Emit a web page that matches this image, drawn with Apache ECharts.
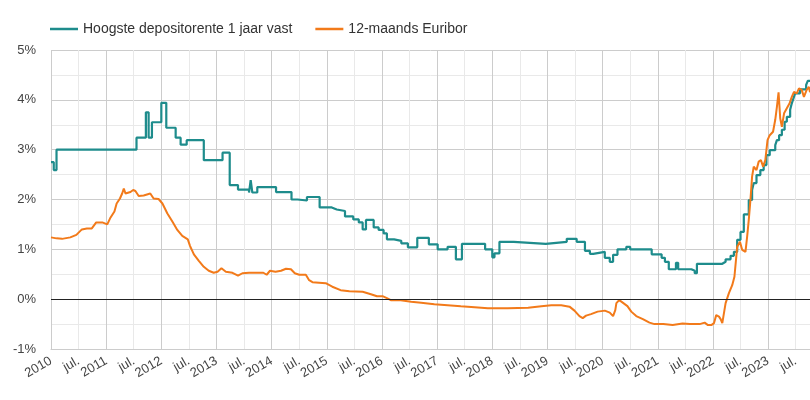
<!DOCTYPE html>
<html>
<head>
<meta charset="utf-8">
<script src="https://cdn.jsdelivr.net/npm/echarts@6/dist/echarts.min.js"></script>
<style>
  html, body { margin: 0; padding: 0; background: #fff; }
  #chart { width: 810px; height: 400px; }
</style>
</head>
<body>
<div id="chart"></div>
<script>
// Time values are decimal years (2010.5 = July 2010)
const seriesNames = ['Hoogste depositorente 1 jaar vast', '12-maands Euribor'];

const depositTimes = [
  2010.00, 2010.05, 2010.10, 2011.55, 2011.72, 2011.77, 2011.83, 2012.00, 2012.09, 2012.26,
  2012.35, 2012.46, 2012.77, 2013.11, 2013.24, 2013.39, 2013.59, 2013.62, 2013.65, 2013.74,
  2014.08, 2014.36, 2014.47, 2014.64, 2014.87, 2015.09, 2015.11, 2015.18, 2015.33, 2015.48,
  2015.58, 2015.65, 2015.71, 2015.85, 2015.94, 2016.03, 2016.09, 2016.22, 2016.35, 2016.47,
  2016.64, 2016.85, 2017.01, 2017.19, 2017.34, 2017.45, 2017.87, 2018.00, 2018.04, 2018.13,
  2018.39, 2018.97, 2019.35, 2019.53, 2019.68, 2019.77, 2019.83, 2020.04, 2020.13, 2020.19,
  2020.27, 2020.43, 2020.50, 2020.89, 2021.07, 2021.13, 2021.20, 2021.33, 2021.37, 2021.61,
  2021.67, 2021.71, 2022.17, 2022.23, 2022.32, 2022.38, 2022.44, 2022.50, 2022.56, 2022.65,
  2022.71, 2022.74, 2022.79, 2022.86, 2022.92, 2022.97, 2023.03, 2023.13, 2023.16, 2023.20,
  2023.25, 2023.30, 2023.34, 2023.40, 2023.43, 2023.46, 2023.49, 2023.58, 2023.69, 2023.72,
  2023.76
];
const depositRates = [
  2.75, 2.59, 3.00, 3.24, 3.75, 3.24, 3.55, 3.94, 3.44, 3.24,
  3.10, 3.19, 2.79, 2.94, 2.29, 2.20, 2.14, 2.39, 2.14, 2.25,
  2.15, 2.00, 1.98, 2.05, 1.84, 1.88, 1.80, 1.77, 1.66, 1.60,
  1.54, 1.40, 1.59, 1.44, 1.39, 1.32, 1.20, 1.17, 1.12, 1.04,
  1.23, 1.10, 1.00, 1.05, 0.80, 1.11, 1.00, 0.84, 0.92, 1.15,
  1.11, 1.15, 1.21, 1.15, 0.97, 0.91, 0.95, 0.83, 0.75, 0.89,
  1.00, 1.05, 1.00, 0.90, 0.83, 0.75, 0.60, 0.73, 0.60, 0.57,
  0.52, 0.71, 0.75, 0.80, 0.87, 0.95, 1.19, 1.35, 1.70, 1.99,
  2.19, 2.33, 2.49, 2.59, 2.69, 2.89, 2.99, 3.09, 3.19, 3.29,
  3.40, 3.56, 3.66, 3.80, 3.93, 4.03, 4.13, 4.21, 4.30, 4.38,
  4.38
];

const euriborTimes = [
  2010.00, 2010.10, 2010.20, 2010.35, 2010.46, 2010.56, 2010.65, 2010.74, 2010.82, 2010.93,
  2011.02, 2011.08, 2011.15, 2011.19, 2011.25, 2011.29, 2011.32, 2011.35, 2011.44, 2011.49,
  2011.53, 2011.59, 2011.68, 2011.74, 2011.80, 2011.86, 2011.95, 2012.02, 2012.11, 2012.20,
  2012.29, 2012.38, 2012.48, 2012.52, 2012.59, 2012.68, 2012.77, 2012.86, 2012.95, 2013.02,
  2013.09, 2013.17, 2013.29, 2013.39, 2013.47, 2013.59, 2013.74, 2013.85, 2013.91, 2013.97,
  2014.07, 2014.17, 2014.26, 2014.35, 2014.42, 2014.50, 2014.62, 2014.68, 2014.74, 2014.86,
  2014.98, 2015.10, 2015.25, 2015.41, 2015.65, 2015.80, 2015.91, 2016.01, 2016.09, 2016.16,
  2016.34, 2016.53, 2016.71, 2016.95, 2017.19, 2017.43, 2017.68, 2017.92, 2018.28, 2018.65,
  2018.89, 2019.07, 2019.25, 2019.40, 2019.49, 2019.58, 2019.64, 2019.70, 2019.79, 2019.91,
  2020.04, 2020.13, 2020.19, 2020.23, 2020.25, 2020.30, 2020.34, 2020.37, 2020.45, 2020.52,
  2020.61, 2020.73, 2020.85, 2020.94, 2021.10, 2021.27, 2021.45, 2021.58, 2021.76, 2021.85,
  2021.91, 2021.97, 2022.02, 2022.06, 2022.11, 2022.14, 2022.17, 2022.23, 2022.29, 2022.35,
  2022.39, 2022.44, 2022.49, 2022.53, 2022.59, 2022.62, 2022.65, 2022.68, 2022.71, 2022.74,
  2022.79, 2022.83, 2022.87, 2022.91, 2022.95, 2022.99, 2023.03, 2023.09, 2023.13, 2023.16,
  2023.19, 2023.22, 2023.25, 2023.29, 2023.34, 2023.39, 2023.43, 2023.47, 2023.52, 2023.56,
  2023.61, 2023.65, 2023.70, 2023.74, 2023.76
];
const euriborRates = [
  1.24, 1.22, 1.21, 1.24, 1.29, 1.40, 1.42, 1.42, 1.54, 1.54,
  1.50, 1.64, 1.76, 1.92, 2.02, 2.12, 2.22, 2.12, 2.15, 2.19,
  2.17, 2.07, 2.08, 2.10, 2.12, 2.02, 2.01, 1.92, 1.72, 1.56,
  1.39, 1.27, 1.20, 1.07, 0.90, 0.77, 0.65, 0.57, 0.53, 0.55,
  0.62, 0.55, 0.53, 0.47, 0.52, 0.53, 0.53, 0.53, 0.49, 0.57,
  0.55, 0.57, 0.61, 0.60, 0.52, 0.49, 0.49, 0.38, 0.34, 0.33,
  0.32, 0.25, 0.18, 0.16, 0.15, 0.10, 0.06, 0.06, 0.02, -0.02,
  -0.02, -0.05, -0.07, -0.10, -0.12, -0.14, -0.16, -0.18, -0.18, -0.17,
  -0.14, -0.12, -0.12, -0.15, -0.23, -0.34, -0.38, -0.33, -0.30, -0.25,
  -0.23, -0.27, -0.34, -0.22, -0.08, -0.02, -0.05, -0.02, -0.14, -0.25,
  -0.34, -0.40, -0.47, -0.50, -0.50, -0.52, -0.49, -0.50, -0.50, -0.47,
  -0.52, -0.52, -0.48, -0.32, -0.35, -0.40, -0.48, -0.08, 0.12, 0.28,
  0.45, 1.05, 1.15, 0.99, 0.95, 1.25, 1.59, 1.99, 2.46, 2.66,
  2.59, 2.76, 2.79, 2.66, 2.79, 3.19, 3.29, 3.36, 3.60, 3.86,
  4.15, 3.63, 3.46, 3.73, 3.83, 3.93, 4.06, 4.16, 4.13, 4.23,
  4.20, 4.06, 4.20, 4.26, 4.15
];

const xMin = 2010, xMax = 2023.76;
const zeroLineValue = 0;

const zip = (a, b) => a.map((t, i) => [t, b[i]]);
const FONT = 'Arial, "Liberation Sans", sans-serif';

const chart = echarts.init(document.getElementById('chart'), null, { renderer: 'canvas' });
chart.setOption({
  animation: false,
  textStyle: { fontFamily: FONT },
  legend: {
    left: 45, top: 17,
    icon: 'rect', itemWidth: 28, itemHeight: 2.5, itemGap: 23,
    textStyle: { fontSize: 14, color: '#333', fontFamily: FONT },
    data: seriesNames
  },
  grid: { left: 51, right: 0, top: 50, bottom: 51, containLabel: false },
  xAxis: {
    type: 'value', min: xMin, max: xMax, interval: 0.5,
    axisLine: { onZero: false, show: true, lineStyle: { color: '#ccc' } },
    axisTick: { show: false },
    axisLabel: {
      rotate: 30, margin: 11, fontSize: 13, color: '#444', fontFamily: FONT,
      showMaxLabel: false,
      formatter: v => {
        const r = Math.round(v * 2) / 2;
        if (Math.abs(r - v) > 1e-6) return '';
        return Number.isInteger(r) ? String(r) : 'jul.';
      }
    },
    splitLine: { show: true, lineStyle: { color: ['#cccccc', '#e9e9e9'], width: 1 } }
  },
  yAxis: {
    type: 'value', min: -1, max: 5, interval: 0.5,
    axisLine: { show: false }, axisTick: { show: false },
    axisLabel: {
      margin: 15, fontSize: 13, color: '#444', fontFamily: FONT,
      formatter: v => Number.isInteger(v) ? v + '%' : ''
    },
    splitLine: { show: true, lineStyle: { color: ['#cccccc', '#e9e9e9'], width: 1 } }
  },
  series: [
    {
      name: seriesNames[0], type: 'line', step: 'end', showSymbol: false,
      data: zip(depositTimes, depositRates),
      color: '#1e8c8c',
      lineStyle: { width: 2.2, color: '#1e8c8c' },
      markLine: {
        silent: true, symbol: 'none', label: { show: false },
        lineStyle: { color: '#222', width: 1, type: 'solid' },
        data: [{ yAxis: zeroLineValue }]
      },
      z: 2
    },
    {
      name: seriesNames[1], type: 'line', showSymbol: false,
      data: zip(euriborTimes, euriborRates),
      color: '#f27a1a',
      lineStyle: { width: 2, color: '#f27a1a' },
      z: 3
    }
  ]
});
</script>
</body>
</html>
